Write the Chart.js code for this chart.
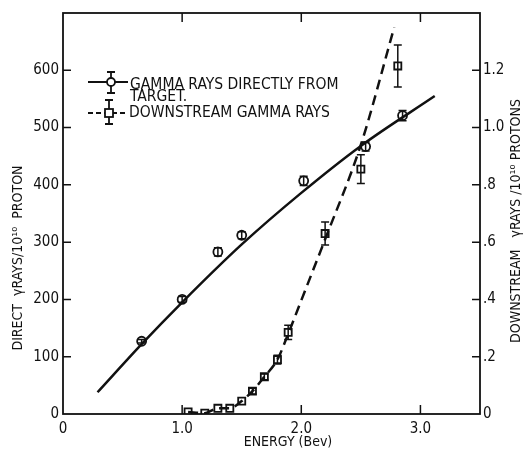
<!DOCTYPE html>
<html>
<head>
<meta charset="utf-8">
<script src="https://cdn.jsdelivr.net/npm/chart.js@4/dist/chart.umd.min.js"></script>
<style>
  html, body { margin: 0; padding: 0; background: #fff; }
  #wrap { width: 524px; height: 450px; }
</style>
</head>
<body>
<div id="wrap"><canvas id="chart"></canvas></div>
<script>
// measured points, gamma rays directly from target (left axis)
const directEnergy = [0.66, 1.0, 1.3, 1.5, 2.02, 2.54, 2.85];
const directValue = [127, 200, 283, 312, 407, 467, 521];
const directError = [3, 5, 7, 6, 8, 8, 9];

// fitted solid curve
const directFitEnergy = [0.29, 0.66, 1.0, 1.5, 2.0, 2.5, 3.12];
const directFitValue = [38, 122, 195, 296, 386, 468, 555];

// downstream gamma rays (right axis)
const downEnergy = [1.05, 1.19, 1.3, 1.4, 1.5, 1.59, 1.69, 1.8, 1.89, 2.2, 2.5, 2.81];
const downValue = [0.007, 0.003, 0.02, 0.02, 0.045, 0.08, 0.13, 0.19, 0.285, 0.63, 0.855, 1.215];
const downError = [0, 0, 0, 0, 0, 0.01, 0.01, 0.015, 0.025, 0.04, 0.05, 0.073];

// dashed curve
const downFitEnergy = [1.05, 1.19, 1.3, 1.4, 1.5, 1.59, 1.69, 1.8, 1.89, 2.05, 2.2, 2.5, 2.78];
const downFitValue = [0.007, 0.003, 0.02, 0.02, 0.045, 0.08, 0.13, 0.19, 0.28, 0.45, 0.61, 0.94, 1.35];

const xTicks = [0, 1, 2, 3];
const yTicks = [0, 100, 200, 300, 400, 500, 600];
const y2Ticks = [0, 0.2, 0.4, 0.6, 0.8, 1.0, 1.2];

const FONT = "'Liberation Sans Narrow', 'DejaVu Sans Condensed', 'DejaVu Sans', sans-serif";

function pts(xs, ys) {
  return xs.map((x, i) => ({ x: x, y: ys[i] }));
}

const errorBars = {
  id: 'errorBars',
  afterDatasetsDraw(chart) {
    const ctx = chart.ctx;
    const xs = chart.scales.x;
    const sets = [
      { e: directEnergy, v: directValue, err: directError, scale: chart.scales.y },
      { e: downEnergy, v: downValue, err: downError, scale: chart.scales.y2 }
    ];
    ctx.save();
    ctx.strokeStyle = '#111';
    ctx.lineWidth = 1.5;
    sets.forEach(s => {
      s.e.forEach((x, i) => {
        if (!s.err[i]) return;
        const px = xs.getPixelForValue(x);
        const top = s.scale.getPixelForValue(s.v[i] + s.err[i]);
        const bot = s.scale.getPixelForValue(s.v[i] - s.err[i]);
        ctx.beginPath();
        ctx.moveTo(px, top); ctx.lineTo(px, bot);
        ctx.moveTo(px - 4, top); ctx.lineTo(px + 4, top);
        ctx.moveTo(px - 4, bot); ctx.lineTo(px + 4, bot);
        ctx.stroke();
      });
    });
    ctx.restore();
  }
};

const frame = {
  id: 'frame',
  afterDraw(chart) {
    const ctx = chart.ctx;
    const a = chart.chartArea;
    ctx.save();
    ctx.strokeStyle = '#111';
    ctx.lineWidth = 1.8;
    ctx.strokeRect(a.left, a.top, a.right - a.left, a.bottom - a.top);

    // inward tick marks
    ctx.lineWidth = 1.5;
    ctx.beginPath();
    const xs = chart.scales.x;
    xTicks.forEach(v => {
      if (v === 0) return;
      const px = xs.getPixelForValue(v);
      ctx.moveTo(px, a.bottom); ctx.lineTo(px, a.bottom - 9);
      ctx.moveTo(px, a.top); ctx.lineTo(px, a.top + 9);
    });
    yTicks.forEach(v => {
      if (v === 0) return;
      const py = chart.scales.y.getPixelForValue(v);
      ctx.moveTo(a.left, py); ctx.lineTo(a.left + 8, py);
    });
    y2Ticks.forEach(v => {
      if (v === 0) return;
      const py = chart.scales.y2.getPixelForValue(v);
      ctx.moveTo(a.right, py); ctx.lineTo(a.right - 8, py);
    });
    ctx.stroke();

    // axis titles
    ctx.fillStyle = '#111';
    ctx.font = '14px ' + FONT;
    ctx.textAlign = 'center';
    ctx.textBaseline = 'middle';
    ctx.fillText('ENERGY (Bev)', 288, 442);

    ctx.save();
    ctx.translate(18, 258);
    ctx.rotate(-Math.PI / 2);
    ctx.fillText('DIRECT  \u03b3RAYS/10\u00b9\u2070  PROTON', 0, 0);
    ctx.restore();

    ctx.save();
    ctx.translate(516, 221);
    ctx.rotate(-Math.PI / 2);
    ctx.fillText('DOWNSTREAM   \u03b3RAYS /10\u00b9\u2070 PROTONS', 0, 0);
    ctx.restore();

    // legend
    ctx.font = '15.5px ' + FONT;
    ctx.textAlign = 'left';
    ctx.fillText('GAMMA RAYS DIRECTLY FROM', 130, 85);
    ctx.fillText('TARGET.', 130, 97);
    ctx.fillText('DOWNSTREAM GAMMA RAYS', 129, 113);

    ctx.lineWidth = 1.8;
    ctx.beginPath();
    ctx.moveTo(88, 82); ctx.lineTo(128, 82);
    ctx.moveTo(111, 72); ctx.lineTo(111, 93);
    ctx.moveTo(107, 72); ctx.lineTo(115, 72);
    ctx.moveTo(107, 93); ctx.lineTo(115, 93);
    ctx.moveTo(109, 100); ctx.lineTo(109, 124);
    ctx.moveTo(105, 100); ctx.lineTo(113, 100);
    ctx.moveTo(105, 124); ctx.lineTo(113, 124);
    ctx.stroke();
    ctx.setLineDash([5, 3]);
    ctx.beginPath();
    ctx.moveTo(88, 113); ctx.lineTo(128, 113);
    ctx.stroke();
    ctx.setLineDash([]);
    ctx.fillStyle = '#fff';
    ctx.beginPath();
    ctx.arc(111, 82, 4, 0, Math.PI * 2);
    ctx.fill(); ctx.stroke();
    ctx.fillRect(105, 109, 8, 8);
    ctx.strokeRect(105, 109, 8, 8);
    ctx.restore();
  }
};

const chart = new Chart(document.getElementById('chart'), {
  type: 'scatter',
  data: {
    datasets: [
      {
        label: 'fit direct',
        type: 'line',
        data: pts(directFitEnergy, directFitValue),
        yAxisID: 'y',
        borderColor: '#111',
        borderWidth: 2.5,
        pointRadius: 0,
        cubicInterpolationMode: 'monotone',
        fill: false
      },
      {
        label: 'fit downstream',
        type: 'line',
        data: pts(downFitEnergy, downFitValue),
        yAxisID: 'y2',
        borderColor: '#111',
        borderWidth: 2.5,
        borderDash: [10, 6],
        pointRadius: 0,
        cubicInterpolationMode: 'monotone',
        fill: false
      },
      {
        label: 'GAMMA RAYS DIRECTLY FROM TARGET.',
        data: pts(directEnergy, directValue),
        yAxisID: 'y',
        pointStyle: 'circle',
        pointRadius: 4.5,
        pointBorderWidth: 1.8,
        pointBackgroundColor: '#fff',
        pointBorderColor: '#111'
      },
      {
        label: 'DOWNSTREAM GAMMA RAYS',
        data: pts(downEnergy, downValue),
        yAxisID: 'y2',
        pointStyle: 'rect',
        pointRadius: 5,
        pointBorderWidth: 1.8,
        pointBackgroundColor: '#fff',
        pointBorderColor: '#111'
      }
    ]
  },
  options: {
    responsive: true,
    maintainAspectRatio: false,
    animation: false,
    layout: { padding: { top: 10, left: 0, right: 0, bottom: 0 } },
    plugins: {
      legend: { display: false },
      tooltip: { enabled: false }
    },
    scales: {
      x: {
        type: 'linear',
        min: 0,
        max: 3.5,
        afterBuildTicks: s => { s.ticks = xTicks.map(v => ({ value: v })); },
        afterFit: s => { s.height = 36; },
        grid: { display: false, drawTicks: false },
        border: { display: false },
        ticks: {
          padding: 6,
          color: '#111',
          font: { family: FONT, size: 15 },
          callback: v => v === 0 ? '0' : v.toFixed(1)
        }
      },
      y: {
        position: 'left',
        min: 0,
        max: 700,
        afterBuildTicks: s => { s.ticks = yTicks.map(v => ({ value: v })); },
        afterFit: s => { s.width = 63; },
        grid: { display: false, drawTicks: false },
        border: { display: false },
        ticks: {
          padding: 4,
          color: '#111',
          font: { family: FONT, size: 15 }
        }
      },
      y2: {
        position: 'right',
        min: 0,
        max: 1.4,
        afterBuildTicks: s => { s.ticks = y2Ticks.map(v => ({ value: v })); },
        afterFit: s => { s.width = 44; },
        grid: { display: false, drawTicks: false },
        border: { display: false },
        ticks: {
          padding: 3,
          color: '#111',
          font: { family: FONT, size: 15 },
          callback: v => v === 0 ? '0' : (v < 1 ? v.toFixed(1).slice(1) : v.toFixed(1))
        }
      }
    }
  },
  plugins: [errorBars, frame]
});
</script>
</body>
</html>
